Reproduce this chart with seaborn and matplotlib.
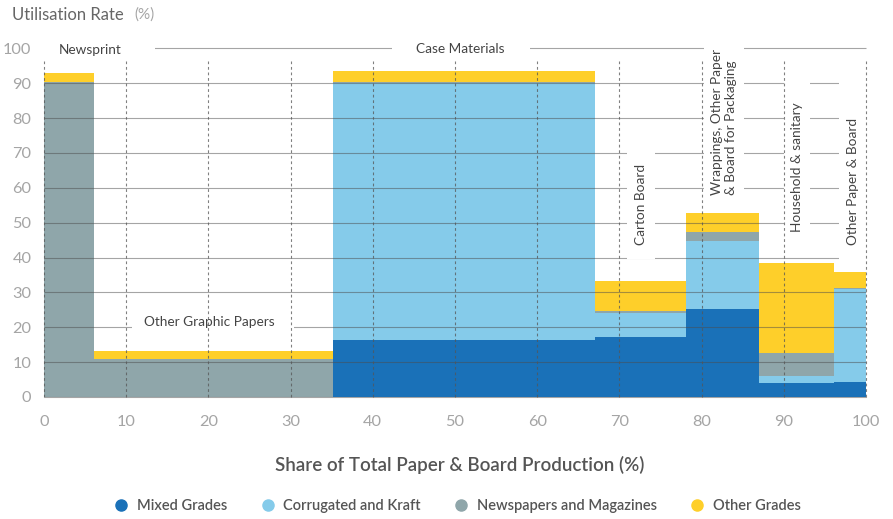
import numpy as np
import pandas as pd
import matplotlib.pyplot as plt
from matplotlib.lines import Line2D
from matplotlib.path import Path
import seaborn as sns

# Segment edges along x (share of total paper & board production, %)
edges = [0, 6.1, 35.2, 67.0, 78.1, 87.0, 96.1, 100]
sectors = ['Newsprint', 'Other Graphic Papers', 'Case Materials', 'Carton Board',
           'Wrappings, Other Paper\n& Board for Packaging', 'Household & sanitary',
           'Other Paper & Board']

# Utilisation rate per recovered-paper grade, stacked from the bottom (%)
mixed = [0, 0, 16.4, 17.3, 25.3, 4.1, 4.4]
corrugated = [0, 0, 73.6, 6.9, 19.4, 1.9, 26.5]
newspapers = [90.2, 10.9, 0.3, 0.5, 2.5, 6.7, 0.5]
other = [2.8, 2.3, 3.1, 8.6, 5.5, 25.6, 4.4]

grades = ['Mixed Grades', 'Corrugated and Kraft', 'Newspapers and Magazines', 'Other Grades']
colors = ['#1a71b8', '#85cbea', '#8fa6aa', '#fecf2a']

y_ticks = list(range(0, 101, 10))
x_ticks = list(range(0, 101, 10))

sns.set_theme(style='white')
plt.rcParams['font.family'] = ['Lato', 'DejaVu Sans']

mids = (np.array(edges[:-1]) + np.array(edges[1:])) / 2
df = pd.DataFrame({
    'share': np.tile(mids, len(grades)),
    'rate': mixed + corrugated + newspapers + other,
    'grade': np.repeat(grades, len(mids)),
})

fig = plt.figure(figsize=(8.93, 5.19), dpi=100)
ax = fig.add_axes([44 / 893, 1 - 397 / 519, 822 / 893, 348.7 / 519])

# variable-width stacked bars: one weighted observation per segment and grade
sns.histplot(data=df, x='share', weights='rate', hue='grade', hue_order=grades[::-1],
             palette=dict(zip(grades, colors)), bins=edges, multiple='stack',
             stat='count', element='bars', alpha=1, linewidth=0, edgecolor='none',
             legend=False, ax=ax, zorder=1)

ax.set_xlim(0, 100)
ax.set_ylim(0, 100)
for s in ax.spines.values():
    s.set_visible(False)

# grid: solid horizontal lines over the bars, dashed verticals on top of everything
ax.hlines(y_ticks, 0, 100, colors='#4d4d4d', alpha=0.5, lw=0.8, zorder=2, clip_on=False)
ax.vlines(x_ticks, 0, 96.4, colors='#555555', alpha=0.75, lw=0.8,
          linestyles=(0, (2.5, 2.5)), zorder=4, clip_on=False)

ax.set_xticks(x_ticks)
ax.set_yticks(y_ticks)
ax.tick_params(axis='x', length=3, width=0.8, color='#888888', pad=10,
               labelsize=11.8, labelcolor='#a5a5a5')
ax.tick_params(axis='y', length=0, pad=9, labelsize=11.8, labelcolor='#a5a5a5')

ax.set_ylabel('')
ax.set_xlabel('Share of Total Paper & Board Production (%)', fontsize=13.5,
              color='#555555', weight='semibold', va='center')
ax.xaxis.set_label_coords(0.5 + 5 / 822, (397 - 465) / 348.7)

fig.text(12 / 893, 1 - 15 / 519, 'Utilisation Rate', fontsize=12, color='#666666', va='center')
fig.text(134 / 893, 1 - 15 / 519, '(%)', fontsize=11, color='#a5a5a5', va='center')


# white box behind a label that cuts the grid lines (pads in pixels, text frame)
def gap_box(lo, hi, across):
    def style(x0, y0, width, height, mutation_size):
        x1, y1 = x0 + width + hi, y0 + height + across
        x0, y0 = x0 - lo, y0 - across
        return Path([(x0, y0), (x1, y0), (x1, y1), (x0, y1), (x0, y0)], closed=True)
    return style


label_spots = [
    (1.8, 99.6, 0, 'left', 'center', (15, 33, 5)),
    (20.1, 21.6, 0, 'center', 'center', (12, 19, 5)),
    (50.6, 99.8, 0, 'center', 'center', (24, 26, 5)),
    (72.6, 43.6, 90, 'center', 'bottom', (14, 14, 8)),
    (82.7, 57.9, 90, 'center', 'bottom', (10, 6, 7)),
    (91.6, 47.4, 90, 'center', 'bottom', (12, 24, 7)),
    (98.4, 43.6, 90, 'center', 'bottom', (15, 40, 8)),
]
for name, (x, y, rot, ha, va, pads) in zip(sectors, label_spots):
    ax.text(x, y, name, rotation=rot, ha=ha, va=va, fontsize=9.8, color='#444444',
            multialignment='left', zorder=3, clip_on=False,
            bbox=dict(boxstyle=gap_box(*pads), fc='white', ec='none'))

handles = [Line2D([], [], marker='o', ls='none', markersize=8,
                  markerfacecolor=c, markeredgecolor=c) for c in colors]
fig.legend(handles, grades, loc='center', bbox_to_anchor=(458 / 893, 1 - 506 / 519),
           ncol=4, frameon=False, prop=dict(size=10.5, weight='semibold'),
           labelcolor='#555555', handlelength=0.8, handletextpad=0.65,
           columnspacing=2.4)

fig.savefig('out.png', dpi=100)
